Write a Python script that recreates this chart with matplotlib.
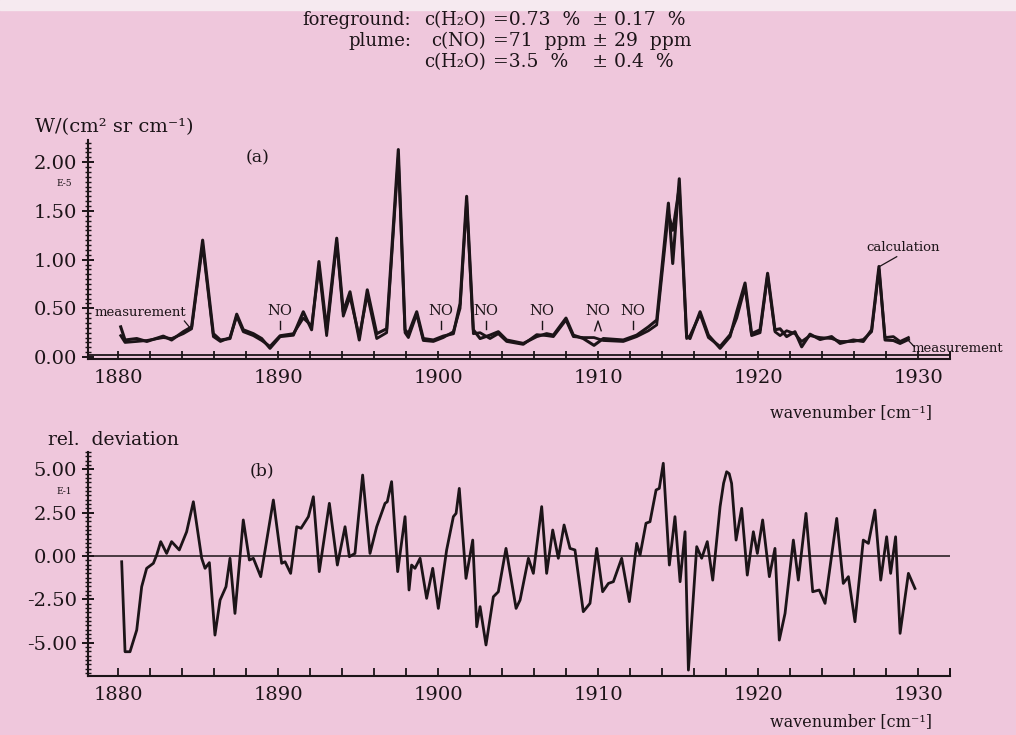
import matplotlib
matplotlib.use('Agg')
import matplotlib.pyplot as plt
from matplotlib.patches import Rectangle
from matplotlib.ticker import MultipleLocator

# spectrum (a): wavenumber and radiance (E-5 W/(cm2 sr cm-1))
wn_a = [1880.17, 1880.44, 1881.17, 1881.8, 1882.83, 1883.35, 1884.08, 1884.6, 1885.29, 1885.96,
        1886.4, 1887.0, 1887.42, 1887.83, 1888.46, 1888.98, 1889.5, 1890.13, 1890.96, 1891.58,
        1892.1, 1892.56, 1893.04, 1893.67, 1894.08, 1894.5, 1895.08, 1895.58, 1896.17, 1896.79,
        1897.52, 1897.94, 1898.15, 1898.67, 1899.08, 1899.71, 1900.33, 1900.96, 1901.38, 1901.79,
        1902.21, 1902.63, 1903.25, 1903.77, 1904.29, 1905.33, 1906.17, 1906.79, 1907.21, 1908.0,
        1908.46, 1909.08, 1909.75, 1910.33, 1911.58, 1912.42, 1913.15, 1913.67, 1914.40, 1914.67,
        1915.08, 1915.54, 1915.75, 1916.38, 1916.9, 1917.63, 1918.25, 1918.67, 1919.19, 1919.6,
        1920.13, 1920.6, 1921.06, 1921.38, 1921.79, 1922.31, 1922.73, 1923.25, 1923.88, 1924.6,
        1925.13, 1925.96, 1926.58, 1927.1, 1927.56, 1927.94, 1928.46, 1928.88, 1929.4]
measurement = [0.31, 0.175, 0.19, 0.16, 0.215, 0.175, 0.26, 0.31, 1.20, 0.24,
               0.175, 0.19, 0.44, 0.28, 0.24, 0.19, 0.09, 0.21, 0.225, 0.465,
               0.28, 0.98, 0.28, 1.22, 0.465, 0.67, 0.175, 0.69, 0.24, 0.29,
               2.13, 0.28, 0.24, 0.465, 0.19, 0.175, 0.215, 0.24, 0.55, 1.65,
               0.28, 0.19, 0.225, 0.26, 0.175, 0.14, 0.21, 0.24, 0.225, 0.40,
               0.225, 0.19, 0.12, 0.19, 0.175, 0.225, 0.31, 0.38, 1.58, 0.96,
               1.83, 0.21, 0.19, 0.465, 0.225, 0.09, 0.21, 0.465, 0.76, 0.24,
               0.28, 0.86, 0.28, 0.29, 0.21, 0.26, 0.105, 0.235, 0.18, 0.21,
               0.14, 0.175, 0.16, 0.28, 0.93, 0.175, 0.17, 0.14, 0.18]
calculation = [0.22, 0.15, 0.16, 0.17, 0.20, 0.19, 0.24, 0.29, 1.15, 0.21,
               0.16, 0.20, 0.42, 0.26, 0.22, 0.17, 0.11, 0.22, 0.24, 0.40,
               0.32, 0.92, 0.22, 1.18, 0.42, 0.62, 0.21, 0.64, 0.19, 0.25,
               2.05, 0.25, 0.20, 0.44, 0.17, 0.16, 0.20, 0.26, 0.50, 1.60,
               0.24, 0.25, 0.19, 0.24, 0.16, 0.13, 0.23, 0.22, 0.21, 0.38,
               0.21, 0.20, 0.20, 0.17, 0.16, 0.21, 0.27, 0.33, 1.48, 1.30,
               1.75, 0.19, 0.22, 0.44, 0.20, 0.11, 0.23, 0.40, 0.72, 0.22,
               0.25, 0.84, 0.26, 0.22, 0.27, 0.24, 0.16, 0.22, 0.20, 0.19,
               0.16, 0.16, 0.18, 0.26, 0.90, 0.20, 0.21, 0.16, 0.20]

# NO line markers
no_pos = [1890.1, 1900.2, 1903.0, 1906.5, 1910.0, 1912.2]

# (b) relative deviation (E-1)
wn_b = [1880.23, 1880.44, 1880.75, 1881.17, 1881.48, 1881.79, 1882.21, 1882.42, 1882.67, 1883.04,
        1883.35, 1883.83, 1884.29, 1884.71, 1885.23, 1885.44, 1885.71, 1886.06, 1886.38, 1886.75,
        1887.0, 1887.31, 1887.83, 1888.21, 1888.46, 1888.92, 1889.71, 1890.23, 1890.44, 1890.79,
        1891.17, 1891.44, 1891.9, 1892.21, 1892.58, 1893.21, 1893.71, 1894.19, 1894.46, 1894.81,
        1895.29, 1895.75, 1896.17, 1896.69, 1896.83, 1897.1, 1897.48, 1897.94, 1898.19, 1898.35,
        1898.56, 1898.88, 1899.29, 1899.67, 1900.02, 1900.54, 1900.96, 1901.13, 1901.33, 1901.75,
        1902.17, 1902.42, 1902.63, 1903.0, 1903.46, 1903.77, 1904.25, 1904.88, 1905.13, 1905.65,
        1905.96, 1906.48, 1906.79, 1907.17, 1907.52, 1907.88, 1908.25, 1908.56, 1909.08, 1909.5,
        1909.92, 1910.29, 1910.65, 1910.96, 1911.48, 1911.96, 1912.42, 1912.63, 1913.0, 1913.25,
        1913.63, 1913.83, 1914.08, 1914.46, 1914.81, 1915.13, 1915.44, 1915.65, 1916.17, 1916.48,
        1916.83, 1917.17, 1917.63, 1917.85, 1918.04, 1918.2, 1918.35, 1918.63, 1918.98, 1919.33,
        1919.71, 1919.96, 1920.29, 1920.71, 1921.06, 1921.33, 1921.69, 1922.21, 1922.52, 1923.0,
        1923.42, 1923.83, 1924.19, 1924.92, 1925.33, 1925.65, 1926.06, 1926.58, 1926.9, 1927.31,
        1927.67, 1928.04, 1928.29, 1928.6, 1928.88, 1929.4, 1929.81]
deviation = [-0.33, -5.52, -5.52, -4.27, -1.77, -0.71, -0.42, 0.06, 0.83, 0.15,
             0.83, 0.35, 1.40, 3.13, -0.13, -0.71, -0.38, -4.56, -2.54, -1.77,
             -0.13, -3.31, 2.08, -0.23, -0.13, -1.19, 3.23, -0.42, -0.33, -1.0,
             1.69, 1.60, 2.27, 3.42, -0.90, 3.04, -0.52, 1.69, -0.04, 0.15,
             4.67, 0.15, 1.69, 3.04, 3.13, 4.29, -0.90, 2.27, -1.96, -0.52,
             -0.71, -0.13, -2.44, -0.71, -3.02, 0.35, 2.27, 2.46, 3.90, -1.29,
             0.92, -4.08, -2.92, -5.13, -2.35, -2.06, 0.44, -3.02, -2.54, -0.13,
             -1.0, 2.85, -1.0, 1.50, -0.13, 1.79, 0.44, 0.35, -3.21, -2.73,
             0.44, -2.06, -1.58, -1.48, -0.13, -2.63, 0.73, 0.06, 1.89, 1.98,
             3.81, 3.90, 5.35, -0.52, 2.27, -1.48, 1.40, -6.58, 0.54, -0.13,
             0.83, -1.39, 2.85, 4.2, 4.86, 4.75, 4.19, 0.92, 2.75, -1.10,
             1.40, 0.15, 2.08, -1.19, 0.44, -4.85, -3.31, 0.92, -1.39, 2.46,
             -2.06, -1.96, -2.73, 2.17, -1.58, -1.19, -3.79, 0.92, 0.73, 2.65,
             -1.39, 1.11, -1.0, 1.11, -4.46, -1.0, -1.87]

a_ticks = [0.0, 0.5, 1.0, 1.5, 2.0]
b_ticks = [-5.0, -2.5, 0.0, 2.5, 5.0]
x_ticks = [1880, 1890, 1900, 1910, 1920, 1930]

W, H = 1016, 735
bg = '#efc7dc'
ink = '#1c1418'
plt.rcParams['font.family'] = ['DejaVu Serif']
plt.rcParams['text.color'] = ink
plt.rcParams['axes.edgecolor'] = ink
plt.rcParams['xtick.color'] = ink
plt.rcParams['ytick.color'] = ink

fig = plt.figure(figsize=(W / 100, H / 100), dpi=100, facecolor=bg)
# pale strip at the top of the scan
fig.patches.append(Rectangle((0, 1 - 10 / H), 1, 10 / H, transform=fig.transFigure,
                             color='#f6eaf0', zorder=0))


def fx(px):
    return px / W


def fy(py):
    return 1 - py / H


def style_axes(ax, ymajor, yminor):
    ax.set_facecolor('none')
    for s in ['top', 'right']:
        ax.spines[s].set_visible(False)
    ax.spines['left'].set_linewidth(1.5)
    ax.spines['bottom'].set_linewidth(1.5)
    ax.set_xlim(1878.125, 1932.0)
    ax.set_xticks(x_ticks)
    ax.xaxis.set_minor_locator(MultipleLocator(2))
    ax.tick_params(axis='x', which='both', direction='in', length=6, width=1.3,
                   labelsize=14, pad=7)
    ax.set_yticks(ymajor)
    ax.yaxis.set_minor_locator(MultipleLocator(yminor))
    ax.tick_params(axis='y', which='major', direction='inout', length=8, width=1.4,
                   labelsize=14, pad=4)
    ax.tick_params(axis='y', which='minor', direction='inout', length=4, width=1.0)
    # small cap at the right end of the axis line
    ax.plot([1, 1], [0, 0.03], transform=ax.transAxes, color=ink, lw=1.3, clip_on=False)


def ftext(px, py, s, size, **kw):
    fig.text(fx(px), fy(py), s, fontsize=size, **kw)


# ---- panel (a)
ax_a = fig.add_axes([fx(88), fy(359), fx(950) - fx(88), fy(140) - fy(359)])
ax_a.set_ylim(-0.02, 2.228)
style_axes(ax_a, a_ticks, 0.05)
ax_a.set_yticklabels([f'{v:.2f}' for v in a_ticks])
ax_a.axhline(0.025, color=ink, lw=1.3)
ax_a.plot(wn_a, calculation, color=ink, lw=2.0, solid_joinstyle='round')
ax_a.plot(wn_a, measurement, color=ink, lw=2.2, solid_joinstyle='round')

for x in no_pos:
    ax_a.text(x, 0.405, 'NO', ha='center', va='bottom', fontsize=10.5)
    if x == 1910.0:
        ax_a.plot([x - 0.2, x, x + 0.2], [0.27, 0.37, 0.27], color=ink, lw=1.0)
    else:
        ax_a.plot([x, x], [0.29, 0.37], color=ink, lw=1.0)

ax_a.text(1884.25, 0.46, 'measurement', ha='right', va='center', fontsize=9.5)
ax_a.plot([1884.15, 1884.55], [0.37, 0.29], color=ink, lw=0.9)
ax_a.text(1926.8, 1.12, 'calculation', ha='left', va='center', fontsize=9.5)
ax_a.plot([1928.67, 1927.6], [1.03, 0.93], color=ink, lw=0.9)
ax_a.text(1929.6, 0.09, 'measurement', ha='left', va='center', fontsize=9.5, clip_on=False)
ax_a.plot([1929.4, 1929.75], [0.17, 0.11], color=ink, lw=0.9)

ftext(35, 127, 'W/(cm² sr cm⁻¹)', 14, ha='left', va='center')
ftext(258, 158, '(a)', 12.5, ha='center', va='center')
ftext(64, 183, 'E-5', 6.5, ha='center', va='center')
ftext(851, 413, 'wavenumber [cm⁻¹]', 11.5, ha='center', va='center')

# ---- panel (b)
ax_b = fig.add_axes([fx(88), fy(676), fx(950) - fx(88), fy(452) - fy(676)])
ax_b.set_ylim(-6.92, 6.0)
style_axes(ax_b, b_ticks, 0.25)
ax_b.set_yticklabels([f'{v:.2f}' for v in b_ticks])
ax_b.axhline(0.0, color=ink, lw=1.1)
ax_b.plot(wn_b, deviation, color=ink, lw=2.0, solid_joinstyle='round')

ftext(48, 440, 'rel.  deviation', 13.5, ha='left', va='center')
ftext(262, 471, '(b)', 12.5, ha='center', va='center')
ftext(64, 492, 'E-1', 6.5, ha='center', va='center')
ftext(851, 722, 'wavenumber [cm⁻¹]', 11.5, ha='center', va='center')

# ---- retrieval results at the top
rows = [('foreground:', 'c(H₂O)', '=0.73  %  ± 0.17  %'),
        ('plume:', 'c(NO)', '=71  ppm ± 29  ppm'),
        ('', 'c(H₂O)', '=3.5  %    ± 0.4  %')]
for i, (lab, sp, val) in enumerate(rows):
    py = 20 + 21 * i
    ftext(411, py, lab, 13, ha='right', va='center')
    ftext(486, py, sp, 13, ha='right', va='center')
    ftext(493, py, val, 13.5, ha='left', va='center')

fig.savefig('out.png', dpi=100, facecolor=bg)
